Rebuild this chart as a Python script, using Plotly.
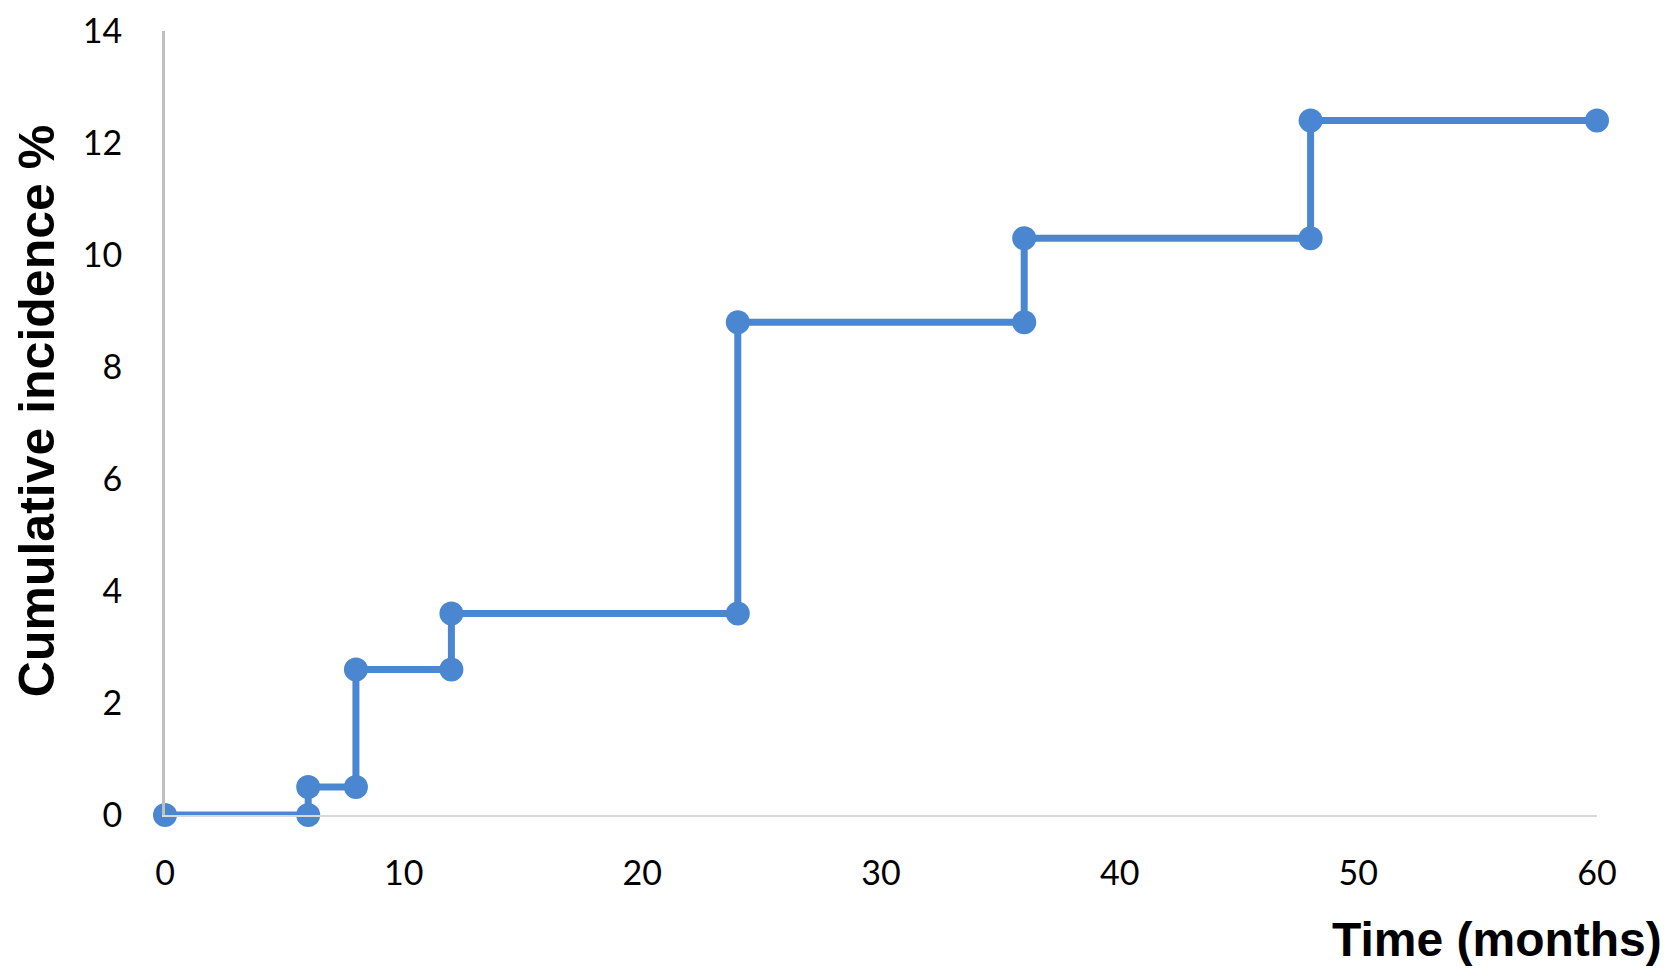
import plotly.graph_objects as go

# Data (months, cumulative incidence %)
time_months = [0, 6, 6, 8, 8, 12, 12, 24, 24, 36, 36, 48, 48, 60]
incidence = [0, 0, 0.5, 0.5, 2.6, 2.6, 3.6, 3.6, 8.8, 8.8, 10.3, 10.3, 12.4, 12.4]
x_ticks = [0, 10, 20, 30, 40, 50, 60]
y_ticks = [0, 2, 4, 6, 8, 10, 12, 14]

blue = "#4a87d0"
fig = go.Figure()
fig.add_trace(go.Scatter(
    x=time_months, y=incidence, mode="lines+markers",
    line=dict(color=blue, width=7),
    marker=dict(color=blue, size=24),
    showlegend=False, cliponaxis=False,
))

tick_font = dict(family="Lato, Carlito, Liberation Sans", size=34, color="black")

fig.update_layout(
    width=1675, height=979,
    margin=dict(l=157, r=86, t=23, b=172),
    paper_bgcolor="white", plot_bgcolor="white",
    xaxis=dict(range=[0, 60], tickvals=x_ticks, showgrid=False, zeroline=False,
               showline=True, linecolor="#d9d9d9", linewidth=2, automargin=False,
               ticks="", ticklabelstandoff=27, ticklabeloverflow="allow", tickfont=tick_font),
    yaxis=dict(range=[0, 14], tickvals=y_ticks, showgrid=False, zeroline=False,
               showline=True, linecolor="#bfbfbf", linewidth=3, automargin=False,
               ticks="", ticklabelstandoff=33, ticklabeloverflow="allow", tickfont=tick_font),
    annotations=[
        dict(text="<b>Time (months)</b>", xref="paper", yref="paper",
             x=1.047, y=-0.1586, xanchor="right", yanchor="middle",
             showarrow=False, font=dict(family="Liberation Sans, Arial", size=48, color="black")),
        dict(text="<b>Cumulative incidence %</b>", xref="paper", yref="paper",
             x=-0.0894, y=0.515, xanchor="center", yanchor="middle", textangle=-90,
             showarrow=False, font=dict(family="Liberation Sans, Arial", size=50, color="black")),
    ],
)

fig.write_html("out.html")
